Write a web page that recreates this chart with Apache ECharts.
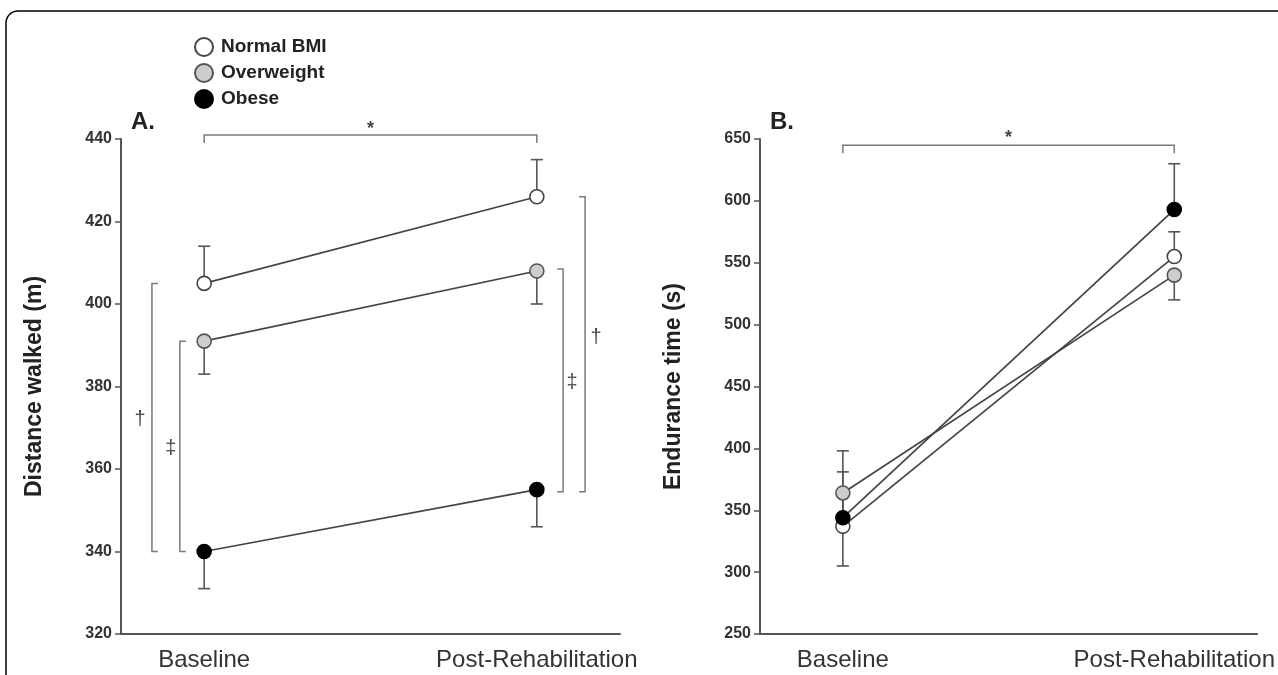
<!DOCTYPE html>
<html>
<head>
<meta charset="utf-8">
<script src="https://cdn.jsdelivr.net/npm/echarts@6/dist/echarts.min.js"></script>
<style>
html,body{margin:0;padding:0;background:#fff;}
#chart{width:1278px;height:675px;}
</style>
</head>
<body>
<div id="chart"></div>
<script>
// ---- data ----
const categories = ['Baseline', 'Post-Rehabilitation'];
const groups = ['Normal BMI', 'Overweight', 'Obese'];

const distanceTicks = [320, 340, 360, 380, 400, 420, 440];
const enduranceTicks = [250, 300, 350, 400, 450, 500, 550, 600, 650];

// Panel A: distance walked (m)
const distNormal = [405, 426];
const distNormalErr = [414, 435];
const distOver = [391, 408];
const distOverErr = [383, 400];
const distObese = [340, 355];
const distObeseErr = [331, 346];

// Panel B: endurance time (s)
const endNormal = [337, 555];
const endNormalErr = [381, 575];
const endOver = [364, 540];
const endOverErr = [305, 520];
const endObese = [344, 593];
const endObeseErr = [398, 630];

// significance brackets: [x, yTop, yBottom, tickDirection]
const distBracketsV = [[-0.157, 405, 340, 1], [-0.073, 391, 340, 1], [1.079, 408.5, 354.5, -1], [1.145, 426, 354.5, -1]];
// horizontal brackets: [x1, x2, y]
const distBracketH = [[0, 1, 441]];
const endBracketH = [[0, 1, 645]];
// significance marks: [symbol, x, y]
const distMarks = [['\u2020', -0.193, 372], ['\u2021', -0.10, 365], ['\u2021', 1.106, 381], ['\u2020', 1.178, 392], ['*', 0.5, 442.5]];
const endMarks = [['*', 0.5, 651]];

// ---- styles ----
const FONT = '"Liberation Sans", Arial, Helvetica, sans-serif';
const styles = {
  'Normal BMI': { color: '#ffffff', border: '#444444' },
  'Overweight': { color: '#cdcdcd', border: '#555555' },
  'Obese': { color: '#000000', border: '#000000' }
};

function pts(vals) { return vals.map((v, i) => [i, v]); }
function errData(vals, ends) { return vals.map((v, i) => [i, v, ends[i]]); }

function lineSeries(name, vals, idx) {
  return {
    type: 'line', name: name, xAxisIndex: idx, yAxisIndex: idx,
    data: pts(vals), symbol: 'circle', symbolSize: 14, showSymbol: true,
    itemStyle: { color: styles[name].color, borderColor: styles[name].border, borderWidth: 1.6 },
    lineStyle: { color: '#444', width: 1.7 },
    z: 4, animation: false
  };
}

function errSeries(vals, ends, idx) {
  return {
    type: 'custom', xAxisIndex: idx, yAxisIndex: idx, z: 2, silent: true,
    data: errData(vals, ends), clip: false,
    renderItem: function (params, api) {
      const p0 = api.coord([api.value(0), api.value(1)]);
      const p1 = api.coord([api.value(0), api.value(2)]);
      const st = { stroke: '#555', lineWidth: 1.6 };
      return { type: 'group', children: [
        { type: 'line', shape: { x1: p0[0], y1: p0[1], x2: p1[0], y2: p1[1] }, style: st },
        { type: 'line', shape: { x1: p1[0] - 6, y1: p1[1], x2: p1[0] + 6, y2: p1[1] }, style: st }
      ] };
    }
  };
}

function vBracketSeries(data, idx) {
  return {
    type: 'custom', xAxisIndex: idx, yAxisIndex: idx, z: 1, silent: true, clip: false,
    data: data,
    renderItem: function (params, api) {
      const a = api.coord([api.value(0), api.value(1)]);
      const b = api.coord([api.value(0), api.value(2)]);
      const d = api.value(3) * 6;
      const st = { stroke: '#7a7a7a', lineWidth: 1.5, fill: null };
      return { type: 'polyline', shape: { points: [[a[0] + d, a[1]], [a[0], a[1]], [b[0], b[1]], [b[0] + d, b[1]]] }, style: st };
    }
  };
}

function hBracketSeries(data, idx) {
  return {
    type: 'custom', xAxisIndex: idx, yAxisIndex: idx, z: 1, silent: true, clip: false,
    data: data,
    renderItem: function (params, api) {
      const a = api.coord([api.value(0), api.value(2)]);
      const b = api.coord([api.value(1), api.value(2)]);
      const st = { stroke: '#7a7a7a', lineWidth: 1.5, fill: null };
      return { type: 'polyline', shape: { points: [[a[0], a[1] + 8], [a[0], a[1]], [b[0], b[1]], [b[0], b[1] + 8]] }, style: st };
    }
  };
}

function markSeries(data, idx) {
  return {
    type: 'custom', xAxisIndex: idx, yAxisIndex: idx, z: 1, silent: true, clip: false,
    data: data.map(d => [d[1], d[2]]),
    renderItem: function (params, api) {
      const item = data[params.dataIndex];
      const p = api.coord([api.value(0), api.value(1)]);
      const isStar = item[0] === '*';
      return { type: 'text', x: p[0], y: p[1], style: {
        text: item[0], fill: '#444', align: 'center', verticalAlign: 'middle',
        font: (isStar ? 'bold 18px ' : '20px ') + FONT } };
    }
  };
}

function xAxis(idx) {
  return {
    type: 'value', gridIndex: idx, min: -0.25, max: 1.25, interval: 0.25,
    axisLine: { show: true, onZero: false, lineStyle: { color: '#555', width: 2 } },
    axisTick: { show: false }, splitLine: { show: false },
    axisLabel: {
      show: true, margin: 14, hideOverlap: false, showMinLabel: true, showMaxLabel: true,
      color: '#333', fontFamily: FONT, fontSize: 24,
      formatter: function (v) {
        const r = Math.round(v);
        if (Math.abs(v - r) < 1e-6 && r >= 0 && r < categories.length) return categories[r];
        return '';
      }
    }
  };
}

function yAxis(idx, ticks, name) {
  return {
    type: 'value', gridIndex: idx, min: ticks[0], max: ticks[ticks.length - 1], interval: ticks[1] - ticks[0],
    name: name, nameLocation: 'middle', nameGap: 75, nameRotate: 90,
    nameTextStyle: { fontFamily: FONT, fontSize: 23, fontWeight: 'bold', color: '#222' },
    axisLine: { show: true, onZero: false, lineStyle: { color: '#555', width: 2 } },
    axisTick: { show: true, length: 6, lineStyle: { color: '#555', width: 1.5 } },
    splitLine: { show: false },
    axisLabel: { margin: 9, color: '#333', fontFamily: FONT, fontSize: 16, fontWeight: 'bold' }
  };
}

const chart = echarts.init(document.getElementById('chart'), null, { renderer: 'canvas' });
chart.setOption({
  backgroundColor: '#ffffff',
  animation: false,
  grid: [
    { left: 121, right: 658, top: 139, bottom: 41 },
    { left: 760, right: 18, top: 139, bottom: 41 }
  ],
  xAxis: [xAxis(0), xAxis(1)],
  yAxis: [yAxis(0, distanceTicks, 'Distance walked (m)'), yAxis(1, enduranceTicks, 'Endurance time (s)')],
  legend: {
    data: groups, orient: 'vertical', left: 189, top: 32, icon: 'circle',
    itemWidth: 18, itemHeight: 18, itemGap: 6, selectedMode: false,
    textStyle: { fontFamily: FONT, fontSize: 19, fontWeight: 'bold', color: '#222', padding: [0, 0, 0, 3] }
  },
  graphic: [
    { type: 'rect', shape: { x: 6, y: 11, width: 1400, height: 900, r: 12 }, style: { fill: null, stroke: '#000', lineWidth: 1.5 }, silent: true },
    { type: 'text', left: 131, top: 110, style: { text: 'A.', font: 'bold 24px ' + FONT, fill: '#222' } },
    { type: 'text', left: 770, top: 110, style: { text: 'B.', font: 'bold 24px ' + FONT, fill: '#222' } }
  ],
  series: [
    hBracketSeries(distBracketH, 0),
    vBracketSeries(distBracketsV, 0),
    markSeries(distMarks, 0),
    errSeries(distNormal, distNormalErr, 0),
    errSeries(distOver, distOverErr, 0),
    errSeries(distObese, distObeseErr, 0),
    lineSeries('Normal BMI', distNormal, 0),
    lineSeries('Overweight', distOver, 0),
    lineSeries('Obese', distObese, 0),
    hBracketSeries(endBracketH, 1),
    markSeries(endMarks, 1),
    errSeries(endNormal, endNormalErr, 1),
    errSeries(endOver, endOverErr, 1),
    errSeries(endObese, endObeseErr, 1),
    lineSeries('Normal BMI', endNormal, 1),
    lineSeries('Overweight', endOver, 1),
    lineSeries('Obese', endObese, 1)
  ]
});
</script>
</body>
</html>
